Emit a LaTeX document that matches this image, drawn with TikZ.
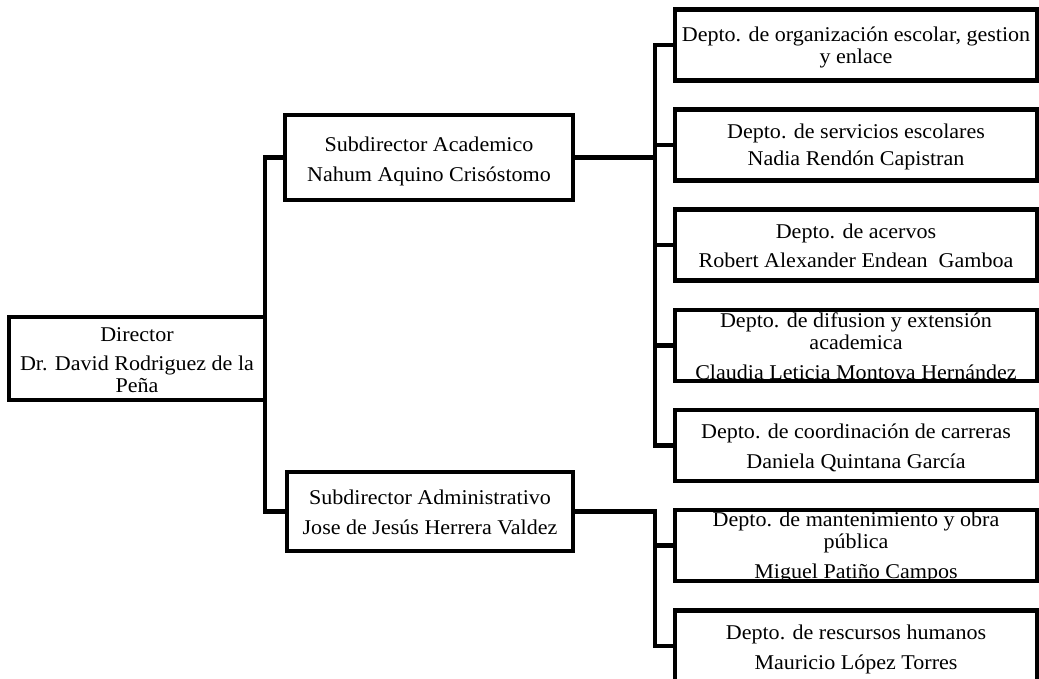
\documentclass[tikz,border=0pt]{standalone}
\usepackage{fontspec}
\setmainfont{Liberation Serif}[FakeStretch=1.05]
\usetikzlibrary{positioning}
\newcommand{\orgfont}{\fontsize{21}{22}\selectfont}

\tikzset{
  box/.style={draw, line width=4.5pt, inner sep=0pt, outer sep=0pt},
  dept/.style={box, minimum width=362pt, minimum height=71pt},
  txt/.style={align=center, inner sep=0pt, font=\orgfont},
  conn/.style={line width=4.5pt},
}

\begin{document}
\begin{tikzpicture}[x=1pt, y=-1pt]
  \clip (0,0) rectangle (1039,679);

  % boxes
  \node[box, minimum width=256pt, minimum height=83pt] (dir) at (137,358.5) {};
  \node[box, minimum width=288pt, minimum height=85pt] (sa) at (429,157.5) {};
  \node[box, minimum width=286pt, minimum height=79pt] (sd) at (430,511.5) {};
  \foreach \n/\y in {1/45, 2/145, 3/245, 4/345.5, 5/445.5, 6/545.5, 7/646}
    \node[dept] (d\n) at (856,\y) {};
  \coordinate (spine) at (655,0);

  % texts
  \node[txt, yshift=-2pt] (tdir) at (dir) {Director\\[7pt] Dr. David Rodriguez de la\\ Peña};
  \node[txt, yshift=-4pt] (tsa) at (sa) {Subdirector Academico\\[8pt] Nahum Aquino Crisóstomo};
  \node[txt, yshift=-1pt] (tsd) at (sd) {Subdirector Administrativo\\[8pt] Jose de Jesús Herrera Valdez};
  \node[txt, yshift=-2pt] (t1) at (d1) {Depto. de organización escolar, gestion\\ y enlace};
  \node[txt, yshift=-2pt] (t2) at (d2) {Depto. de servicios escolares\\[5pt] Nadia Rendón Capistran};
  \node[txt, yshift=-1pt] (t3) at (d3) {Depto. de acervos\\[7pt] Robert Alexander Endean\ \ Gamboa};
  \begin{scope}
    \clip (d4.south west) rectangle (d4.north east);
    \node[txt, yshift=-3pt] (t4) at (d4) {Depto. de difusion y extensión\\ academica\\[8pt] Claudia Leticia Montoya Hernández};
  \end{scope}
  \node[txt, yshift=-2pt] (t5) at (d5) {Depto. de coordinación de carreras\\[8pt] Daniela Quintana García};
  \begin{scope}
    \clip (d6.south west) rectangle (d6.north east);
    \node[txt, yshift=-2pt] (t6) at (d6) {Depto. de mantenimiento y obra\\ pública\\[8pt] Miguel Patiño Campos};
  \end{scope}
  \node[txt, yshift=-3pt] (t7) at (d7) {Depto. de rescursos humanos\\[8pt] Mauricio López Torres};

  % connectors
  \draw[conn] (sa.west) -| (dir.east) |- (sd.west);
  \draw[conn] (sa.east) -- (sa.east -| spine);
  \draw[conn] (d1.west) -- (d1.west -| spine) -- (d5.west -| spine) -- (d5.west);
  \foreach \n in {2,3,4}
    \draw[conn] (d\n.west) -- (d\n.west -| spine);
  \draw[conn] (sd.east) -| (d7.west -| spine) -- (d7.west);
  \draw[conn] (d6.west) -- (d6.west -| spine);
\end{tikzpicture}
\end{document}
